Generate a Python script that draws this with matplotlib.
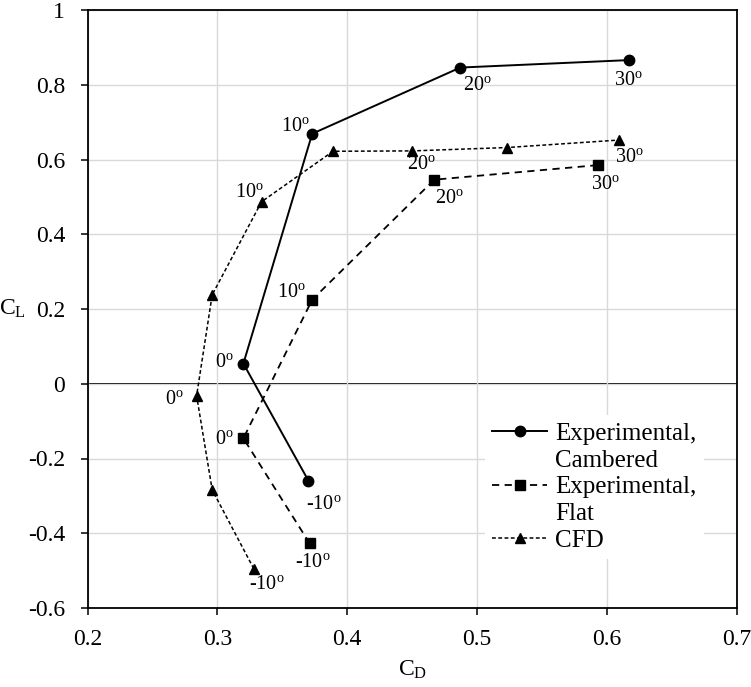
import numpy as np
import matplotlib.pyplot as plt
from matplotlib.lines import Line2D

# drag / lift coefficients
cd_cambered = [0.370, 0.320, 0.373, 0.487, 0.617]
cl_cambered = [-0.259, 0.054, 0.669, 0.846, 0.866]
aoa_cambered = ['-10', '0', '10', '20', '30']

cd_flat = [0.371, 0.320, 0.373, 0.467, 0.593]
cl_flat = [-0.427, -0.146, 0.225, 0.546, 0.585]
aoa_flat = ['-10', '0', '10', '20', '30']

cd_cfd = [0.328, 0.296, 0.284, 0.296, 0.334, 0.389, 0.450, 0.523, 0.609]
cl_cfd = [-0.495, -0.284, -0.032, 0.238, 0.487, 0.622, 0.623, 0.632, 0.652]
aoa_cfd = ['-10', '', '0', '', '10', '', '20', '', '30']

x_ticks = [0.2, 0.3, 0.4, 0.5, 0.6, 0.7]
y_ticks = [-0.6, -0.4, -0.2, 0, 0.2, 0.4, 0.6, 0.8, 1]

# label offsets in pixels (dx, dy, ha)
off_cambered = [(-2, -25, 'left'), (-10, 0, 'right'), (-2, 6, 'right'), (3, -19, 'left'), (-1, -21, 'center')]
off_flat = [(3, -20, 'center'), (-10, -2, 'right'), (-6, 6, 'right'), (1, -20, 'left'), (7, -20, 'center')]
off_cfd = [(-5, -17, 'left'), None, (-13, -5, 'right'), None, (2, 8, 'right'), None, (-5, -15, 'left'), None, (-4, -18, 'left')]

plt.rcParams['font.family'] = ['Liberation Serif', 'DejaVu Serif']
plt.rcParams['mathtext.fontset'] = 'custom'
plt.rcParams['mathtext.rm'] = 'Liberation Serif'

fig = plt.figure(figsize=(7.51, 6.87), dpi=100)
ax = fig.add_axes([87.5/751, 1-608/687, (737-87.5)/751, (608-10)/687])

ax.grid(True, color='#d9d9d9', lw=1.0, zorder=0)
ax.axhline(0, color='black', lw=1.4, zorder=1)

l1, = ax.plot(cd_cambered, cl_cambered, '-', color='black', lw=1.4, marker='o', ms=7.5, zorder=3)
l2, = ax.plot(cd_flat, cl_flat, color='black', lw=1.3, ls=(0, (4, 3)), marker='s', ms=7, zorder=3)
l3, = ax.plot(cd_cfd, cl_cfd, color='black', lw=1.1, ls=(0, (2.5, 1.6)), marker='^', ms=7, zorder=3)

for xs, ys, labs, offs in [(cd_cambered, cl_cambered, aoa_cambered, off_cambered),
                           (cd_flat, cl_flat, aoa_flat, off_flat),
                           (cd_cfd, cl_cfd, aoa_cfd, off_cfd)]:
    for x, y, lab, o in zip(xs, ys, labs, offs):
        if not lab:
            continue
        ax.annotate(lab + r'$^{\mathregular{o}}$', (x, y), xytext=(o[0], o[1]),
                    textcoords='offset pixels', ha=o[2], va='center', fontsize=14.5, zorder=4)

ax.set_xlim(0.2, 0.7)
ax.set_ylim(-0.6, 1)
ax.set_xticks(x_ticks)
ax.set_yticks(y_ticks)
ax.set_xticklabels([f'{v:g}' for v in x_ticks])
ax.set_yticklabels([f'{v:g}' for v in y_ticks])
ax.tick_params(direction='out', length=5, width=1.1, labelsize=17)
ax.tick_params(axis='y', pad=11)
ax.tick_params(axis='x', pad=10)
for s in ax.spines.values():
    s.set_linewidth(1.3)
    s.set_color('black')

ax.set_xlabel(r'$\mathregular{C_D}$', fontsize=17)
ax.xaxis.set_label_coords(0.5, -0.085)
ax.set_ylabel(r'$\mathregular{C_L}$', fontsize=17, rotation=0, va='center', ha='center')
ax.yaxis.set_label_coords(-0.115, 0.5)

blank = Line2D([], [], color='none')
handles = [l1, blank, l2, blank, l3]
labels = ['Experimental,', 'Cambered', 'Experimental,', 'Flat', 'CFD']
leg = ax.legend(handles, labels, loc='upper left', bbox_to_anchor=(0.612, 0.323), fontsize=18,
                frameon=True, fancybox=False, edgecolor='none', facecolor='white',
                framealpha=1, handlelength=2.2, handletextpad=0.3, labelspacing=0.17,
                borderpad=0.3, borderaxespad=0)

fig.savefig('out.png', dpi=100)
